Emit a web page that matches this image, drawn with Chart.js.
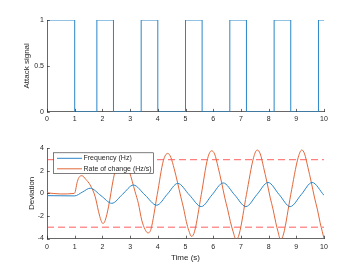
<!DOCTYPE html>
<html>
<head>
<meta charset="utf-8">
<script src="https://cdn.jsdelivr.net/npm/chart.js@4.4.0/dist/chart.umd.min.js"></script>
<style>
html,body{margin:0;padding:0;background:#fff;}
#wrap{position:relative;width:359px;height:269px;overflow:hidden;}
canvas{position:absolute;left:0;}
#c1{top:0;}
#c2{top:135px;}
</style>
</head>
<body>
<div id="wrap">
<canvas id="c1" width="359" height="135"></canvas>
<canvas id="c2" width="359" height="134"></canvas>
</div>
<script>
// ---- data ----
const attackTimes = [0, 1, 1.8, 2.4, 3.4, 4.0, 5.0, 5.6, 6.6, 7.2, 8.2, 8.8, 9.8, 10];
const attackValues = [1, 0, 1, 0, 1, 0, 1, 0, 1, 0, 1, 0, 1, 1];

const freqTimes = [0, 0.5, 1.0, 1.28, 1.56, 1.95, 2.34, 2.73, 3.12, 3.54, 3.96, 4.34, 4.72, 5.14, 5.57, 5.96, 6.36, 6.77, 7.18, 7.58, 7.98, 8.38, 8.78, 9.18, 9.57, 10];
const freqValues = [-0.2, -0.21, -0.22, 0.12, 0.46, -0.2, -0.88, -0.07, 0.74, -0.15, -1.05, -0.08, 0.89, -0.14, -1.17, -0.12, 0.93, -0.12, -1.17, -0.1, 0.97, -0.1, -1.17, -0.1, 0.97, -0.17];

const rocTimes = [0, 0.5, 0.98, 1.02, 1.08, 1.15, 1.26, 1.4, 1.56, 1.74, 1.86, 1.95, 2.02, 2.1, 2.22, 2.4, 2.55, 2.7, 2.85, 2.98, 3.18, 3.3, 3.42, 3.54, 3.64, 3.75, 3.98, 4.2, 4.36,
  4.47, 4.59, 4.71, 4.83, 4.93, 5.03, 5.12, 5.22, 5.33, 5.57, 5.8, 5.94,
  6.05, 6.18, 6.3, 6.42, 6.52, 6.62, 6.72, 6.83, 6.94, 7.2, 7.46, 7.59,
  7.7, 7.82, 7.94, 8.06, 8.16, 8.26, 8.34, 8.43, 8.54, 8.8, 9.07, 9.2,
  9.3, 9.42, 9.54, 9.66, 9.76, 9.86, 9.94, 10];
const rocValues = [0.05, -0.05, 0.0, 0.15, 0.9, 1.4, 1.57, 1.25, 0.74, -0.3, -1.6, -2.4, -2.67, -2.4, -1.2, 1.33, 2.8, 3.2, 2.8, 1.9, 0.15, -0.9, -2.37, -3.2, -3.5, -3.2, -0.1, 2.9, 3.55,
  3.2, 2.2, 1.0, -0.3, -1.3, -2.5, -3.3, -3.82, -3.35, -0.1, 3.1, 3.78,
  3.5, 2.3, 1.0, -0.4, -1.4, -2.5, -3.4, -4.1, -3.6, -0.1, 3.2, 3.85,
  3.5, 2.3, 1.0, -0.4, -1.4, -2.6, -3.4, -4.1, -3.6, -0.1, 3.2, 3.85,
  3.5, 2.3, 1.0, -0.4, -1.4, -2.6, -3.4, -4.0];

const thresholdTimes = [0, 10];
const upperThreshold = [3, 3];
const lowerThreshold = [-3, -3];

const xTicks = [0,1,2,3,4,5,6,7,8,9,10];

// ---- helpers ----
const zip = (xs, ys) => xs.map((x, i) => ({x: x, y: ys[i]}));
const TXT = '#262626';
const FONT = 'Liberation Sans, Arial, Helvetica, sans-serif';

const inwardTicks = {
  id: 'inwardTicks',
  afterDraw(chart) {
    const ctx = chart.ctx, a = chart.chartArea;
    const xs = chart.scales.x, ys = chart.scales.y;
    ctx.save();
    ctx.strokeStyle = TXT;
    ctx.lineWidth = 0.7;
    ctx.beginPath();
    xs.ticks.forEach(t => {
      const px = Math.round(xs.getPixelForValue(t.value)) + 0.5;
      ctx.moveTo(px, a.bottom); ctx.lineTo(px, a.bottom - 2.8);
    });
    ys.ticks.forEach(t => {
      const py = Math.round(ys.getPixelForValue(t.value)) + 0.5;
      ctx.moveTo(a.left, py); ctx.lineTo(a.left + 2.8, py);
    });
    ctx.stroke();
    ctx.restore();
  }
};

const boxLegend = {
  id: 'boxLegend',
  afterDatasetsDraw(chart, args, opts) {
    if (!opts || !opts.show) return;
    const ctx = chart.ctx, a = chart.chartArea;
    const x0 = a.left + 6.5, y0 = a.top + 4.5, w = 100, h = 20.5;
    ctx.save();
    ctx.fillStyle = '#fff';
    ctx.fillRect(x0, y0, w, h);
    ctx.strokeStyle = '#262626';
    ctx.lineWidth = 0.6;
    ctx.strokeRect(x0, y0, w, h);
    ctx.font = '7px ' + FONT;
    ctx.textBaseline = 'middle';
    ctx.fillStyle = TXT;
    opts.items.forEach((idx, i) => {
      const ds = chart.data.datasets[idx];
      const yy = y0 + 5.5 + i * 10.5;
      ctx.strokeStyle = ds.borderColor;
      ctx.lineWidth = 1;
      ctx.beginPath();
      ctx.moveTo(x0 + 3.5, yy); ctx.lineTo(x0 + 28.5, yy);
      ctx.stroke();
      ctx.fillText(ds.label, x0 + 30, yy);
    });
    ctx.restore();
  }
};

function xScale(showTitle, tickPad, axisH) {
  return {
    type: 'linear', min: 0, max: 10,
    afterBuildTicks: s => { s.ticks = xTicks.map(v => ({value: v})); },
    afterFit: s => { s.height = axisH; },
    grid: {display: false, drawTicks: false},
    border: {display: true, color: TXT, width: 0.7},
    ticks: {color: TXT, font: {family: FONT, size: 7}, padding: tickPad, maxRotation: 0, autoSkip: false,
            callback: v => String(v)},
    title: {display: showTitle, text: 'Time (s)', color: TXT, font: {family: FONT, size: 8}, padding: {top: 0, bottom: 6}}
  };
}
function yScale(min, max, step, title, titlePad) {
  return {
    type: 'linear', min: min, max: max,
    afterFit: s => { s.width = 47; },
    grid: {display: false, drawTicks: false},
    border: {display: true, color: TXT, width: 0.7},
    ticks: {color: TXT, font: {family: FONT, size: 7}, padding: 3, stepSize: step,
            callback: v => String(v)},
    title: {display: true, text: title, color: TXT, font: {family: FONT, size: 8}, padding: {top: titlePad, bottom: 0}}
  };
}

// ---- top chart ----
new Chart(document.getElementById('c1'), {
  type: 'line',
  data: {
    datasets: [{
      label: 'Attack signal',
      data: zip(attackTimes, attackValues),
      borderColor: '#2a86c8', borderWidth: 1, stepped: 'before',
      pointRadius: 0, fill: false
    }]
  },
  options: {
    responsive: false, animation: false, events: [],
    layout: {padding: {top: 20, right: 35, left: 0, bottom: 0}},
    plugins: {legend: {display: false}, tooltip: {enabled: false}},
    scales: {
      x: xScale(false, 3, 23.3),
      y: yScale(0, 1, 0.5, 'Attack signal', 22)
    }
  },
  plugins: [inwardTicks]
});

// ---- bottom chart ----
new Chart(document.getElementById('c2'), {
  type: 'line',
  data: {
    datasets: [
      {label: 'Frequency (Hz)', data: zip(freqTimes, freqValues), borderColor: '#2a86c8', borderWidth: 1,
       cubicInterpolationMode: 'monotone', pointRadius: 0, fill: false},
      {label: 'Rate of change (Hz/s)', data: zip(rocTimes, rocValues), borderColor: '#e2683a', borderWidth: 1,
       cubicInterpolationMode: 'monotone', pointRadius: 0, fill: false},
      {label: 'upper', data: zip(thresholdTimes, upperThreshold), borderColor: 'rgba(255,40,40,0.6)', borderWidth: 1.1,
       borderDash: [7, 4], pointRadius: 0, fill: false},
      {label: 'lower', data: zip(thresholdTimes, lowerThreshold), borderColor: 'rgba(255,40,40,0.5)', borderWidth: 1.5,
       borderDash: [7, 4], pointRadius: 0, fill: false}
    ]
  },
  options: {
    responsive: false, animation: false, events: [],
    layout: {padding: {top: 13.3, right: 35, left: 0, bottom: 0}},
    plugins: {legend: {display: false}, tooltip: {enabled: false}, boxLegend: {show: true, items: [0, 1]}},
    scales: {
      x: xScale(true, 4, 30.5),
      y: yScale(-4, 4, 2, 'Deviation', 26.5)
    }
  },
  plugins: [inwardTicks, boxLegend]
});
</script>
</body>
</html>
